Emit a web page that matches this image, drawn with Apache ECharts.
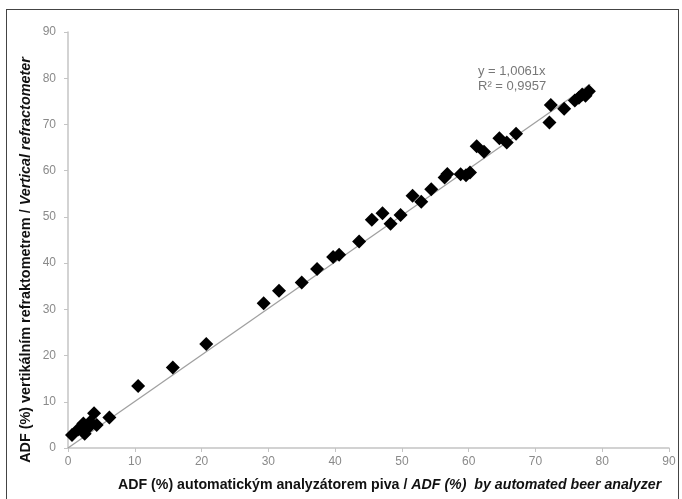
<!DOCTYPE html>
<html>
<head>
<meta charset="utf-8">
<script src="https://cdn.jsdelivr.net/npm/echarts@6/dist/echarts.min.js"></script>
<style>
  html, body { margin: 0; padding: 0; background: #fff; }
  #frame {
    position: absolute; left: 6px; top: 9px; width: 673px; height: 500px;
    border: 1.5px solid #444; box-sizing: border-box;
  }
  #chart { position: absolute; left: 0; top: 0; width: 682px; height: 499px; }
</style>
</head>
<body>
<div id="frame"></div>
<div id="chart"></div>
<script>
// measured ADF values: x = automated beer analyzer, y = vertical refractometer
const analyzerX = [
  0.6, 1.5, 2.3, 2.5, 3.0, 3.3, 3.9, 4.3, 6.2,
  10.5, 15.7, 20.7,
  29.3, 31.6, 35.0, 37.3, 39.7, 40.6, 43.6,
  45.5, 47.1, 48.3, 49.8, 51.6, 52.9, 54.4,
  56.4, 56.8, 58.8, 59.6, 60.2, 61.2, 62.3,
  64.6, 65.7, 67.1, 72.1, 72.3, 74.3,
  75.9, 76.5, 77.0, 77.5, 78.0
];
const refractometerY = [
  2.8, 4.0, 5.3, 3.1, 4.4, 5.6, 7.5, 5.0, 6.6,
  13.4, 17.4, 22.5,
  31.3, 34.0, 35.8, 38.7, 41.3, 41.8, 44.7,
  49.4, 50.8, 48.5, 50.4, 54.6, 53.3, 56.0,
  58.5, 59.3, 59.2, 59.0, 59.6, 65.3, 64.1,
  67.0, 66.1, 68.0, 70.4, 74.2, 73.4,
  75.2, 75.8, 76.5, 76.2, 77.2
];
// linear trend y = 1,0061x drawn between its end points
const trendLine = [[0, 0], [78.2, 78.7]];
const axisTicks = [0, 10, 20, 30, 40, 50, 60, 70, 80, 90];

const points = analyzerX.map((x, i) => [x, refractometerY[i]]);

const chart = echarts.init(document.getElementById('chart'));
const axisCommon = {
  type: 'value',
  min: axisTicks[0],
  max: axisTicks[axisTicks.length - 1],
  interval: 10,
  axisLine: { show: true, lineStyle: { color: '#c4c4c4', width: 1.5 } },
  axisTick: { show: true, length: 4, lineStyle: { color: '#c4c4c4' } },
  axisLabel: { color: '#8a8a8a', fontSize: 12, fontFamily: 'Liberation Sans' },
  splitLine: { show: false }
};
chart.setOption({
  animation: false,
  grid: { left: 68, right: 13, top: 32, bottom: 51 },
  xAxis: Object.assign({}, axisCommon, { axisLabel: Object.assign({}, axisCommon.axisLabel, { margin: 8 }) }),
  yAxis: Object.assign({}, axisCommon, { axisLabel: Object.assign({}, axisCommon.axisLabel, { margin: 12 }) }),
  graphic: [
    {
      type: 'text', left: 118, top: 478,
      style: {
        text: '{n|ADF (%) automatickým analyzátorem piva / }{i|ADF (%)  by automated beer analyzer}',
        rich: {
          n: { font: 'bold 14.2px "Liberation Sans"', fill: '#111' },
          i: { font: 'italic bold 14.2px "Liberation Sans"', fill: '#111' }
        }
      }
    },
    {
      type: 'text', x: 26, y: 260, rotation: Math.PI / 2,
      style: {
        text: '{n|ADF (%) vertikálním refraktometrem / }{i|Vertical refractometer}',
        align: 'center', verticalAlign: 'middle',
        rich: {
          n: { font: 'bold 14.4px "Liberation Sans"', fill: '#111' },
          i: { font: 'italic bold 14.4px "Liberation Sans"', fill: '#111' }
        }
      }
    },
    {
      type: 'text', left: 478, top: 64,
      style: {
        text: 'y = 1,0061x\nR² = 0,9957',
        font: '13px "Liberation Sans"', fill: '#777', lineHeight: 15
      }
    }
  ],
  series: [
    {
      type: 'line',
      data: trendLine,
      symbol: 'none',
      lineStyle: { color: '#a0a0a0', width: 1.3 },
      z: 1
    },
    {
      type: 'scatter',
      data: points,
      symbol: 'diamond',
      symbolSize: 14,
      itemStyle: { color: '#000', opacity: 1 },
      z: 2
    }
  ]
});
</script>
</body>
</html>
